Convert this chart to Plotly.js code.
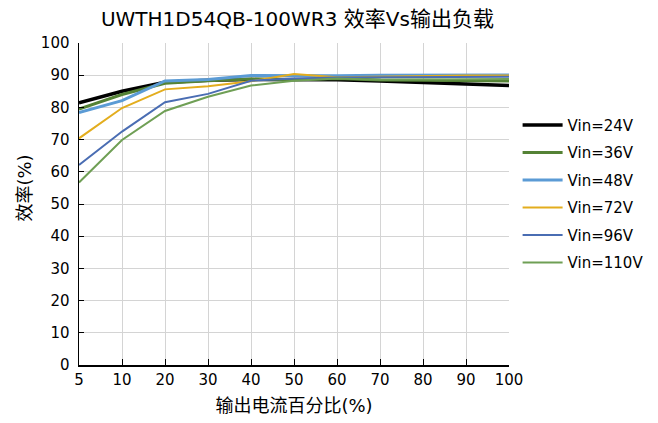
<!DOCTYPE html>
<html>
<head>
<meta charset="utf-8">
<script src="https://cdn.plot.ly/plotly-3.0.1.min.js"></script>
<style>html,body{margin:0;padding:0;background:#fff;}#chart{width:658px;height:423px;}</style>
</head>
<body>
<div id="chart"></div>
<script>
const loadPct = ['5','10','20','30','40','50','60','70','80','90','100'];
const seriesNames = ['Vin=24V','Vin=36V','Vin=48V','Vin=72V','Vin=96V','Vin=110V'];
const v24  = [81.4, 85.0, 87.8, 88.4, 88.7, 88.6, 88.6, 88.2, 87.8, 87.3, 86.8];
const v36  = [79.5, 84.0, 87.5, 88.3, 88.8, 88.6, 89.0, 88.5, 88.4, 88.3, 88.2];
const v48  = [78.4, 82.1, 88.2, 88.7, 89.9, 89.8, 89.8, 90.0, 90.0, 90.1, 90.1];
const v72  = [70.4, 79.8, 85.6, 86.6, 88.1, 90.4, 89.4, 89.6, 89.8, 89.9, 89.9];
const v96  = [62.1, 72.5, 81.6, 84.2, 88.3, 89.0, 89.3, 89.3, 89.4, 89.5, 89.5];
const v110 = [56.7, 69.9, 78.9, 83.3, 86.8, 88.3, 89.0, 88.6, 88.7, 88.8, 88.8];
const yTicks = [0,10,20,30,40,50,60,70,80,90,100];
const titleModel = 'UWTH1D54QB-100WR3 ';
const titleCJK = ['效率', 'Vs', '输出负载'];
const xTitle = '输出电流百分比(%)';
const yTitle = '效率(%)';

const colors = ['#000000','#548235','#5B9BD5','#E3AD1E','#4A6DB3','#6F9F55'];
const widths = [3.5, 3, 3, 2, 2, 2];
const allY = [v24, v36, v48, v72, v96, v110];

const FONT = '"DejaVu Sans", "Noto Sans CJK SC", sans-serif';

const traces = allY.map((ys, i) => ({
  type: 'scatter', mode: 'lines',
  x: loadPct, y: ys, name: seriesNames[i],
  legendgroup: 'g' + i,
  line: {color: colors[i], width: widths[i]}
}));

const titleText = titleModel +
  '<span style="font-size:21px">' + titleCJK[0] + '</span>' + titleCJK[1] +
  '<span style="font-size:21px">' + titleCJK[2] + '</span>';

const layout = {
  width: 658, height: 423,
  margin: {l: 79, r: 149, t: 43, b: 58, autoexpand: false},
  paper_bgcolor: '#fff', plot_bgcolor: '#fff',
  font: {family: FONT, size: 15, color: '#000'},
  title: {text: titleText, font: {size: 20, color: '#000', family: FONT}, x: 0.452, xanchor: 'center', y: 0.955, yanchor: 'middle'},
  xaxis: {
    type: 'category', range: [0, 10],
    showline: true, linecolor: '#000', linewidth: 1.5,
    showgrid: true, gridcolor: '#d4d4d4', gridwidth: 1,
    ticks: 'inside', ticklen: 6, tickcolor: '#000', tickwidth: 1,
    tickfont: {size: 15},
    title: {text: xTitle, font: {size: 18}, standoff: 12},
    zeroline: false
  },
  yaxis: {
    range: [0, 100], tickvals: yTicks, ticktext: yTicks.map(String),
    showline: true, linecolor: '#000', linewidth: 1.5,
    showgrid: true, gridcolor: '#d4d4d4', gridwidth: 1,
    ticks: 'inside', ticklen: 5, tickcolor: '#000',
    tickfont: {size: 15}, ticklabelstandoff: 5,
    zeroline: false
  },
  annotations: [{
    text: yTitle, xref: 'paper', yref: 'paper',
    x: -0.1256, y: 0.551, xanchor: 'center', yanchor: 'middle',
    textangle: -90, showarrow: false, font: {size: 18, family: FONT, color: '#000'}
  }],
  legend: {
    x: 1.02, xanchor: 'left', y: 0.796, yanchor: 'top',
    traceorder: 'grouped', tracegroupgap: 5, itemwidth: 40,
    font: {size: 15}, bgcolor: 'rgba(0,0,0,0)', borderwidth: 0
  },
  showlegend: true
};

Plotly.newPlot('chart', traces, layout, {displayModeBar: false, staticPlot: true});
</script>
</body>
</html>
